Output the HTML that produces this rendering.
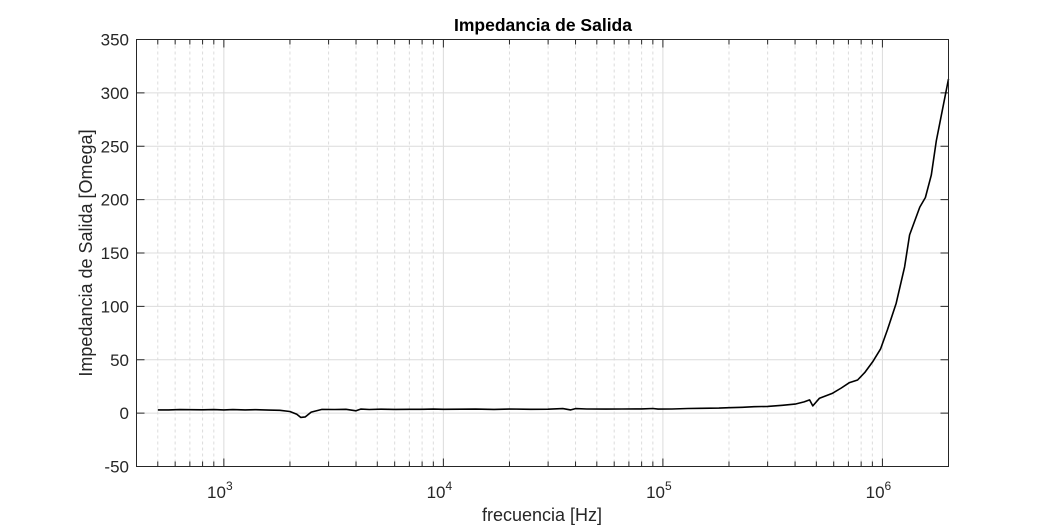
<!DOCTYPE html>
<html><head><meta charset="utf-8"><style>
body{margin:0;background:#fff;}
svg{display:block;font-family:"Liberation Sans",Arial,sans-serif;}
</style></head><body>
<svg id="chart" width="1049" height="525" viewBox="0 0 1049 525">
<rect x="0" y="0" width="1049" height="525" fill="#fff"/>
<rect x="136.5" y="39.5" width="812" height="427" fill="#fff"/>
<g id="grid"></g>
<g id="ticks"></g>
<g id="series"></g>
<rect x="136.5" y="39.5" width="812" height="427" fill="none" stroke="#262626" stroke-width="1"/>
<text x="543" y="31" text-anchor="middle" font-size="17.5" font-weight="bold" fill="#000">Impedancia de Salida</text>
<text x="542" y="521" text-anchor="middle" font-size="18" fill="#262626">frecuencia [Hz]</text>
<text transform="translate(92,253) rotate(-90)" text-anchor="middle" font-size="18" fill="#262626">Impedancia de Salida [Omega]</text>
</svg>
<script>
const yTicks=[-50,0,50,100,150,200,250,300,350];
const xDecades=[3,4,5,6];
const freqs=[500,560,630,700,800,900,1000,1100,1250,1400,1600,1800,2000,2150,2240,2350,2500,2800,3200,3600,4000,4200,4600,5200,6000,7000,8000,9000,10000,12000,14000,17000,20000,25000,30000,35000,38000,40000,45000,55000,65000,80000,90000,95000,110000,130000,150000,180000,200000,230000,260000,300000,350000,400000,440000,466000,482000,517000,593000,650000,708000,771000,830000,902000,980000,1054000,1156000,1262000,1330000,1480000,1570000,1670000,1760000,2000000];
const values=[3,3,3.3,3.2,3.1,3.3,3,3.3,3,3.2,2.8,2.6,1.5,-1,-4,-3.5,1,3.5,3.4,3.6,2.2,3.8,3.4,3.7,3.5,3.6,3.6,3.8,3.6,3.7,3.8,3.5,3.9,3.6,3.7,4.2,3,4.2,3.9,3.8,3.9,4,4.3,3.8,3.9,4.3,4.5,4.7,5.1,5.5,6,6.3,7.3,8.5,10.5,12.4,6.8,14,18.7,23.5,28.6,31,38,48,60,78,103,137,167,193,202,223,255,313];
const L=136.5,R=948.5,T=39.5,B=466.5;
const xmin=Math.log10(400),xmax=Math.log10(2e6),ymin=-50,ymax=350;
const xs=f=>L+(Math.log10(f)-xmin)/(xmax-xmin)*(R-L);
const ys=v=>B-(v-ymin)/(ymax-ymin)*(B-T);
const NS="http://www.w3.org/2000/svg";
function mk(tag,attrs,parent){const e=document.createElementNS(NS,tag);for(const k in attrs)e.setAttribute(k,attrs[k]);parent.appendChild(e);return e;}
const grid=document.getElementById('grid'),ticks=document.getElementById('ticks'),series=document.getElementById('series'),svg=document.getElementById('chart');
for(let d=2;d<=6;d++){for(let m=1;m<10;m++){const f=m*Math.pow(10,d);if(f<400||f>2e6)continue;const x=xs(f);
 if(m===1){const g=mk('line',{x1:x,x2:x,y1:T,y2:B,stroke:'#dcdcdc','stroke-width':1},grid);
 
 }
 else{const g=mk('line',{x1:x,x2:x,y1:T,y2:B,stroke:'#dcdcdc','stroke-width':1,'stroke-dasharray':'3,3'},grid);
 
 }
 const len=m===1?8:5;
 const t1=mk('line',{x1:x,x2:x,y1:B,y2:B-len,stroke:'#262626'},ticks);
 
 
 const t2=mk('line',{x1:x,x2:x,y1:T,y2:T+len,stroke:'#262626'},ticks);
 
 
}}
xDecades.forEach(d=>{const x=xs(Math.pow(10,d));
 const t=mk('text',{x:x-4,y:498,'text-anchor':'middle','font-size':17,fill:'#262626'},svg);
 
 
 t.textContent='10';
 const s=mk('tspan',{dy:-8,'font-size':12},t);s.textContent=String(d);
});
yTicks.forEach(v=>{const y=ys(v);
 if(v>ymin&&v<ymax){const g=mk('line',{x1:L,x2:R,y1:y,y2:y,stroke:'#dcdcdc'},grid);
 
 }
 const t1=mk('line',{x1:L,x2:L+8,y1:y,y2:y,stroke:'#262626'},ticks);
 
 
 const t2=mk('line',{x1:R-8,x2:R,y1:y,y2:y,stroke:'#262626'},ticks);
 
 
 const t=mk('text',{x:129,y:y+6,'text-anchor':'end','font-size':17,fill:'#262626'},svg);
 
 
 t.textContent=String(v);
});
const pts=freqs.map((f,i)=>xs(f).toFixed(1)+','+ys(values[i]).toFixed(1)).join(' ');
const line=mk('polyline',{points:pts,fill:'none',stroke:'#000','stroke-width':1.6,'stroke-linejoin':'round'},series);


</script>
</body></html>
